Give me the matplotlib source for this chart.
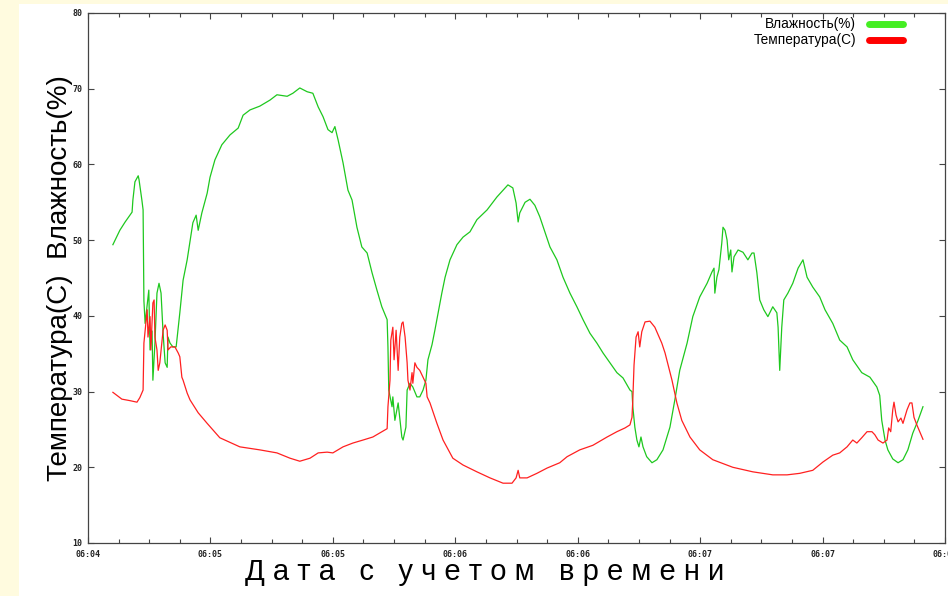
import matplotlib
matplotlib.use("Agg")
import matplotlib.pyplot as plt
from matplotlib.patches import Rectangle
from matplotlib.lines import Line2D

# ---- data: seconds since start of axis, values ----
hum_t = [6.1, 7.8, 9.1, 10.8, 11.0, 11.5, 12.3, 12.5, 13.2, 13.5, 13.7, 14.0, 14.9, 15.2, 15.7, 15.9,
         16.4, 16.9, 17.4, 17.9, 18.4, 18.9, 19.4, 19.6, 20.1, 20.8, 21.6, 22.5, 23.3, 24.3, 25.7, 26.5,
         27.0, 27.9, 29.2, 29.9, 31.1, 32.8, 34.8, 36.8, 38.0, 39.7, 42.1, 44.6, 46.3, 48.8, 50.2, 51.9,
         53.7, 55.1, 56.4, 57.6, 58.8, 59.8, 60.5, 61.3, 62.5, 63.7, 64.7, 65.9, 67.1, 68.4, 69.6, 70.8,
         72.0, 73.3, 73.5, 73.7, 74.5, 74.7, 75.2, 76.0, 76.9, 77.2, 77.9, 78.2, 78.9, 79.6, 80.6, 81.3,
         82.1, 82.8, 83.3, 84.3, 85.0, 85.8, 86.7, 87.5, 88.7, 90.4, 91.9, 93.6, 95.3, 97.8, 100.2, 102.2,
         102.9, 104.1, 104.9, 105.4, 105.8, 107.1, 108.3, 109.5, 110.7, 112.0, 113.2, 114.9, 116.4, 118.1,
         119.8, 121.3, 123.0, 124.7, 126.2, 127.9, 129.6, 131.1, 132.8, 133.3, 133.5, 134.0, 134.5, 135.0,
         135.5, 136.0, 136.9, 138.2, 139.4, 140.9, 142.6, 143.8, 145.0, 146.8, 148.2, 149.9, 151.7, 152.9,
         153.4, 153.6, 154.1, 154.6, 155.3, 155.6, 156.1, 156.6, 157.0, 157.5, 157.8, 158.3, 159.3, 160.5,
         161.7, 162.7, 163.2, 163.9, 164.6, 165.6, 166.6, 167.8, 168.8, 169.1, 169.5, 170.0, 170.5, 171.5,
         172.7, 174.0, 175.2, 176.2, 177.6, 179.3, 180.6, 182.5, 184.2, 186.0, 187.4, 189.6, 191.6, 193.3,
         194.0, 194.5, 195.3, 196.0, 197.2, 198.5, 199.7, 200.9, 202.1, 203.4, 204.6]
hum_v = [49.4, 51.3, 52.4, 53.7, 55.3, 57.7, 58.5, 58.0, 55.3, 54.0, 42.0, 39.0, 43.4, 35.5, 38.0, 31.5,
         36.4, 43.0, 44.3, 43.0, 37.7, 33.8, 33.2, 37.2, 36.4, 35.9, 35.9, 40.4, 44.7, 47.4, 52.3, 53.3,
         51.3, 53.6, 56.2, 58.3, 60.6, 62.6, 63.9, 64.8, 66.5, 67.2, 67.7, 68.5, 69.2, 69.0, 69.4, 70.1,
         69.6, 69.4, 67.6, 66.3, 64.6, 64.2, 65.0, 63.2, 60.2, 56.6, 55.3, 51.7, 49.1, 48.3, 45.7, 43.4,
         41.2, 39.5, 35.9, 30.2, 28.0, 29.3, 26.2, 28.5, 24.0, 23.6, 25.3, 30.2, 31.1, 30.6, 29.3, 29.3,
         30.2, 31.5, 34.2, 36.2, 38.1, 40.4, 43.0, 45.1, 47.4, 49.4, 50.4, 51.1, 52.7, 54.0, 55.7, 56.9,
         57.3, 56.9, 54.9, 52.4, 53.6, 55.0, 55.4, 54.6, 53.1, 51.0, 49.1, 47.4, 45.1, 43.0,
         41.2, 39.5, 37.7, 36.4, 35.1, 33.8, 32.5, 31.8, 30.2, 30.0, 28.0, 25.3, 23.6, 22.7,
         24.0, 22.7, 21.4, 20.6, 21.0, 22.3, 25.3, 28.9, 32.8, 36.4, 39.9, 42.5, 44.3, 45.8,
         46.3, 43.0, 45.1, 46.1, 49.6, 51.7, 51.3, 50.0, 47.4, 48.7, 45.8, 47.8, 48.7, 48.4,
         47.4, 48.3, 48.3, 45.7, 42.1, 40.8, 39.9, 41.2, 40.4, 38.5, 32.8, 38.5, 42.1, 43.0,
         44.3, 46.3, 47.4, 45.1, 43.8, 42.5, 40.8, 39.0, 36.8, 35.9, 34.2, 32.5, 31.9, 30.6,
         29.5, 26.2, 23.6, 22.3, 21.1, 20.6, 21.0, 22.3, 24.5, 26.2, 28.0]

temp_t = [6.1, 8.3, 10.3, 12.0, 12.7, 13.5, 13.7, 14.5, 14.7, 15.2, 15.4, 15.9, 16.2, 16.4, 16.9, 17.2,
          17.6, 18.1, 18.4, 18.9, 19.4, 19.6, 20.3, 21.3, 22.1, 22.5, 23.0, 23.3, 24.3, 25.0, 27.0, 29.2,
          32.3, 37.2, 42.1, 46.3, 49.5, 51.9, 54.4, 56.4, 58.6, 60.0, 62.5, 64.9, 67.4, 69.8, 72.0, 73.3,
          73.5, 74.0, 74.2, 74.7, 75.0, 75.5, 76.0, 76.4, 76.9, 77.2, 77.7, 78.2, 78.4, 78.9, 79.4, 79.6,
          80.1, 80.6, 81.3, 82.1, 82.8, 83.1, 83.8, 85.5, 87.0, 89.4, 91.9, 95.3, 98.5, 101.7, 103.9, 104.9,
          105.4, 105.8, 107.6, 110.0, 112.5, 115.6, 117.4, 120.5, 123.7, 127.2, 129.6, 131.6, 132.8, 133.3,
          133.5, 133.8, 134.3, 134.8, 135.2, 135.7, 136.5, 137.7, 138.9, 140.6, 141.4, 143.1, 144.3, 145.5,
          147.5, 149.9, 153.1, 158.0, 162.9, 167.8, 171.3, 174.4, 177.6, 180.1, 182.5, 184.2, 186.0, 187.4,
          188.4, 189.6, 190.9, 192.1, 192.8, 193.6, 194.8, 195.8, 196.2, 196.7, 197.2, 197.5, 198.0, 198.5,
          199.2, 199.7, 200.7, 201.4, 201.9, 202.4, 203.1, 203.8, 204.6]
temp_v = [29.9, 29.0, 28.8, 28.6, 29.2, 30.2, 36.4, 40.8, 37.2, 39.9, 35.5, 41.7, 42.1, 37.2, 35.5, 32.8,
          33.8, 36.4, 38.1, 38.8, 38.1, 35.5, 35.9, 35.9, 35.1, 34.6, 31.9, 31.5, 29.8, 28.9, 27.2, 25.8,
          23.9, 22.7, 22.3, 21.9, 21.2, 20.8, 21.2, 21.9, 22.0, 21.9, 22.7, 23.2, 23.6, 24.0, 24.7, 25.1,
          28.0, 31.5, 36.8, 38.5, 34.2, 38.1, 32.8, 37.2, 39.0, 39.2, 37.2, 33.8, 31.5, 30.2, 32.5, 31.1,
          33.8, 33.2, 32.8, 31.9, 31.1, 29.3, 28.5, 25.8, 23.6, 21.2, 20.3, 19.4, 18.6, 17.9, 17.9, 18.6,
          19.6, 18.6, 18.6, 19.2, 19.9, 20.6, 21.4, 22.3, 22.9, 24.0, 24.7, 25.2, 25.6, 26.6,
          28.9, 33.5, 37.2, 37.9, 35.9, 37.9, 39.2, 39.3, 38.5, 36.4, 35.1, 31.5, 28.5, 26.2,
          24.0, 22.3, 21.0, 20.0, 19.4, 19.0, 19.0, 19.2, 19.6, 20.7, 21.6, 21.9, 22.7, 23.6,
          23.2, 23.9, 24.7, 24.7, 24.3, 23.6, 23.2, 23.6, 25.2, 24.7, 27.6, 28.6, 26.9, 26.0,
          26.5, 25.8, 27.6, 28.5, 28.5, 26.6, 25.6, 24.7, 23.7]

x_ticks = [0, 30, 60, 90, 120, 150, 180, 210]
x_labels = ["06:04", "06:05", "06:05", "06:06", "06:06", "06:07", "06:07", "06:08"]
y_ticks = [10, 20, 30, 40, 50, 60, 70, 80]
series_names = ["Влажность(%)", "Температура(C)"]

W, H = 948, 596
fig = plt.figure(figsize=(W / 100, H / 100), dpi=100, facecolor="#FFFBDF")
fig.patches.append(Rectangle((19 / W, 0), 1 - 19 / W, 1 - 4 / H, transform=fig.transFigure,
                             facecolor="white", edgecolor="none", zorder=-10))

ax = fig.add_axes([88 / W, 1 - 543 / H, 857 / W, 530 / H])
ax.set_zorder(5)
ax.set_facecolor("white")
ax.plot(hum_t, hum_v, color="#1ec81e", lw=0.9)
ax.plot(temp_t, temp_v, color="#ff2020", lw=0.9)
ax.set_xlim(0, 210)
ax.set_ylim(10, 80)

ax.set_xticks(x_ticks)
ax.set_xticklabels(x_labels)
ax.set_xticks([t + d for t in x_ticks[:-1] for d in (7.5, 15, 22.5)], minor=True)
ax.set_yticks(y_ticks)
ax.set_yticklabels([str(v) for v in y_ticks])
for s in ax.spines.values():
    s.set_color("#444444")
    s.set_linewidth(0.9)
ax.tick_params(which="both", direction="in", top=True, right=True, color="#444444")
ax.tick_params(which="major", length=4.5, width=0.8)
ax.tick_params(which="minor", length=3, width=0.8)
ax.tick_params(axis="x", pad=5)
ax.tick_params(axis="y", pad=4)
for lab in ax.get_xticklabels() + ax.get_yticklabels():
    lab.set_fontfamily("DejaVu Sans Mono")
    lab.set_fontweight("bold")
    lab.set_fontsize(6)
    lab.set_color("#222222")

fig.text(60 / W, 1 - 278 / H, "Температура(C)  Влажность(%)", rotation=90, ha="center", va="center",
         fontsize=20, family="Liberation Sans", color="black", zorder=6)
fig.text(485 / W, 1 - 572 / H, "Д а т а   с   у ч е т о м   в р е м е н и", ha="center", va="center",
         fontsize=21, family="Liberation Sans", color="black", zorder=6)

leg_colors = ["#44ee22", "#ff0000"]
for i, (name, c) in enumerate(zip(series_names, leg_colors)):
    y = 1 - (24 + 16 * i) / H
    fig.text(856 / W, y, name, ha="right", va="center", fontsize=9.8, family="Liberation Sans", zorder=6)
    fig.add_artist(Line2D([869 / W, 903 / W], [y, y], transform=fig.transFigure, color=c,
                          lw=5, solid_capstyle="round", zorder=6))

fig.savefig("out.png", dpi=100, facecolor=fig.get_facecolor())
